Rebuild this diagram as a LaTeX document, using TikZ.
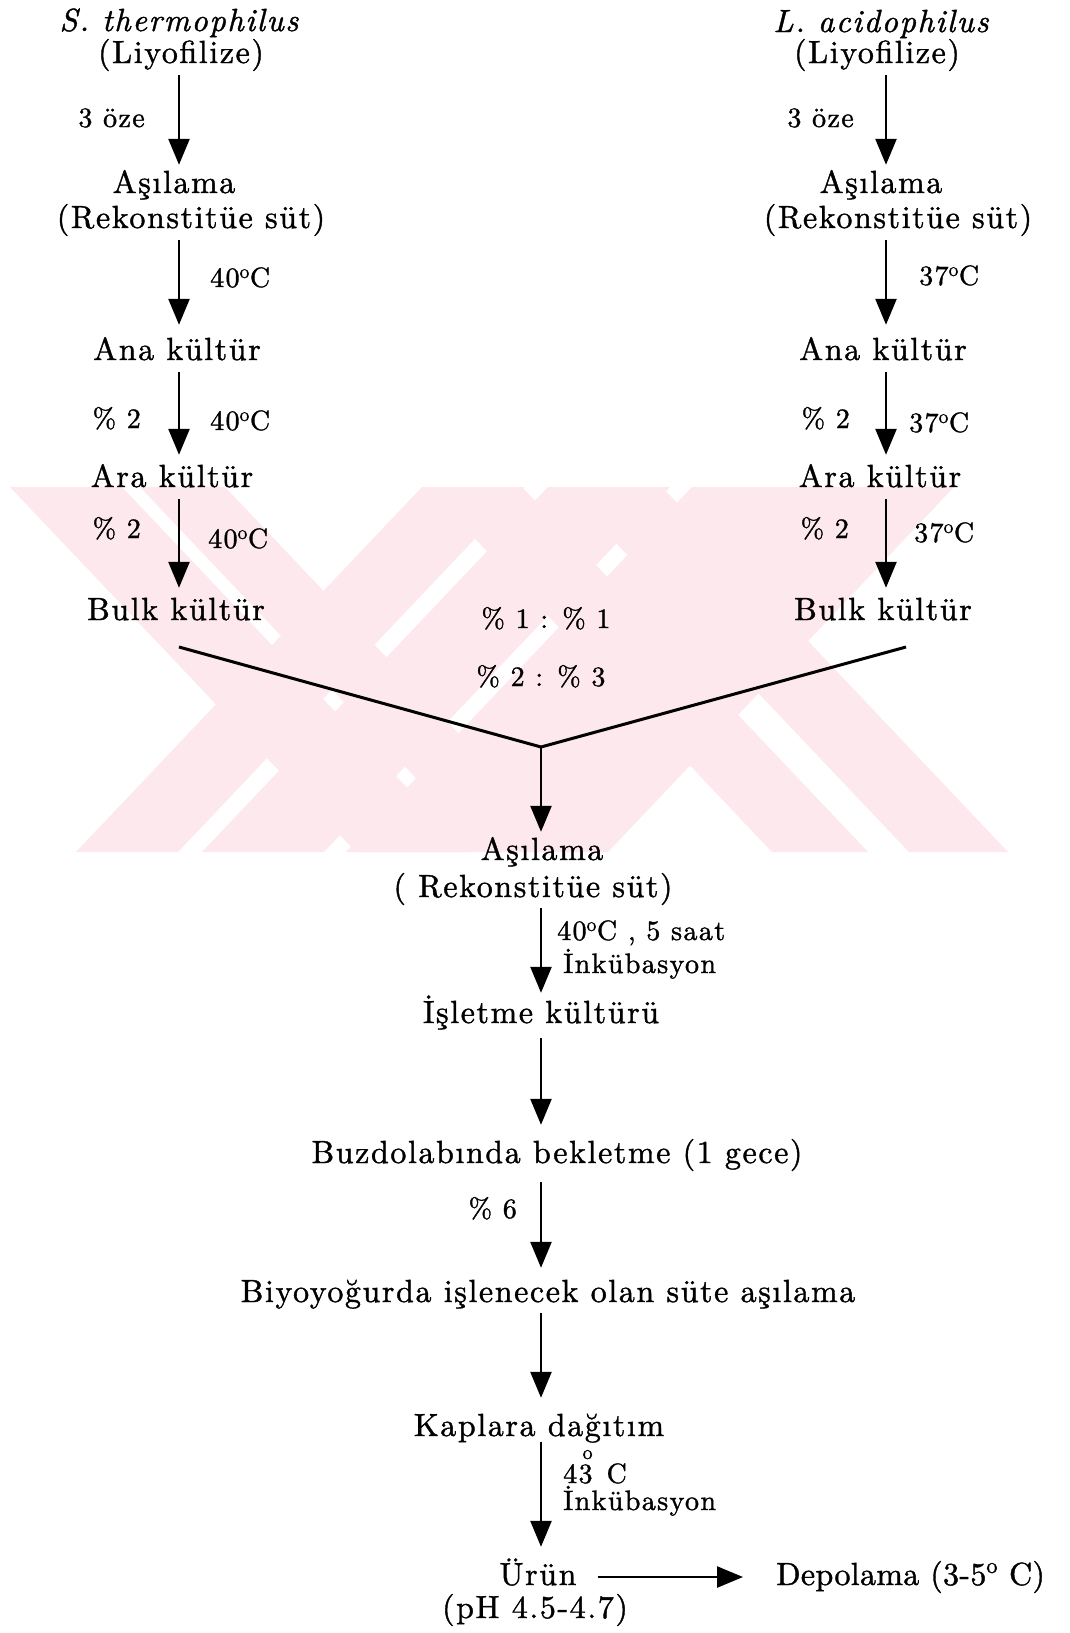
\documentclass[tikz,border=0pt]{standalone}
\usepackage{fontspec}
\setmainfont{lmroman10-regular.otf}[ItalicFont=lmroman10-italic.otf,LetterSpace=5,FakeBold=1.2]
\usetikzlibrary{arrows.meta}
\definecolor{wmark}{RGB}{253,232,237}
\newcommand{\dego}{\textsuperscript{o}}

\begin{document}
\begin{tikzpicture}[x=1pt,y=-1pt,
  stage/.style={inner sep=0pt,text height=22pt,text depth=6pt,anchor=base,font=\fontsize{32}{36}\selectfont},
  lab/.style={inner sep=0pt,anchor=base,font=\fontsize{28}{30}\selectfont},
  flowarrow/.style={-{Triangle[length=26pt,width=21pt]},line width=2.5pt,shorten <=6pt,shorten >=10pt},
  mixline/.style={line width=3pt}]
\path[fill=white] (0,0) rectangle (1070,1633);
% logo in the background
\foreach \a/\b in {10/122,140/225,426/522,563/662}
  \fill[wmark] (\a,487) -- (\b,487) -- (\b+346,852) -- (\a+346,852) -- cycle;
\foreach \a/\b in {422/524,548/670,692/954}
  \fill[wmark] (\a,487) -- (\b,487) -- (\b-346,852) -- (\a-346,852) -- cycle;

% arrow columns
\coordinate (sx) at (179,0);
\coordinate (lx) at (886,0);
\coordinate (cx) at (541,0);

% S. thermophilus side
\node[stage,font=\fontsize{32}{36}\selectfont\itshape] (sName) at (179,31) {S. thermophilus};
\node[stage] (sLyo) at (181,63) {(Liyofilize)};
\node[stage] (sAsi) at (174,193) {Aşılama};
\node[stage] (sRek) at (191,228) {(Rekonstitüe süt)};
\node[stage] (sAna) at (177,360) {Ana kültür};
\node[stage] (sAra) at (172,487) {Ara kültür};
\node[stage] (sBulk) at (176,620) {Bulk kültür};

\draw[flowarrow,shorten >=6pt] (sLyo.south -| sx) -- (sAsi.north -| sx);
\draw[flowarrow,shorten >=13pt] (sRek.south -| sx) -- (sAna.north -| sx);
\draw[flowarrow] (sAna.south -| sx) -- (sAra.north -| sx);
\draw[flowarrow] (sAra.south -| sx) -- (sBulk.north -| sx);

\node[lab,anchor=base east] (sOze) at (145,127) {3 öze};
\node[lab,anchor=base west] (sTa) at (210,287) {40\dego C};
\node[lab,anchor=base east] (sPa) at (141,428) {\% 2};
\node[lab,anchor=base west] (sTb) at (210,430) {40\dego C};
\node[lab,anchor=base east] (sPb) at (141,538) {\% 2};
\node[lab,anchor=base west] (sTc) at (208,548) {40\dego C};

% L. acidophilus side
\node[stage,font=\fontsize{32}{36}\selectfont\itshape] (lName) at (881,32) {L. acidophilus};
\node[stage] (lLyo) at (877,63) {(Liyofilize)};
\node[stage] (lAsi) at (881,193) {Aşılama};
\node[stage] (lRek) at (898,228) {(Rekonstitüe süt)};
\node[stage] (lAna) at (883,360) {Ana kültür};
\node[stage] (lAra) at (880,487) {Ara kültür};
\node[stage] (lBulk) at (883,620) {Bulk kültür};

\draw[flowarrow,shorten >=6pt] (lLyo.south -| lx) -- (lAsi.north -| lx);
\draw[flowarrow,shorten >=13pt] (lRek.south -| lx) -- (lAna.north -| lx);
\draw[flowarrow] (lAna.south -| lx) -- (lAra.north -| lx);
\draw[flowarrow] (lAra.south -| lx) -- (lBulk.north -| lx);

\node[lab,anchor=base east] (lOze) at (854,127) {3 öze};
\node[lab,anchor=base west] (lTa) at (919,285) {37\dego C};
\node[lab,anchor=base east] (lPa) at (850,428) {\% 2};
\node[lab,anchor=base west] (lTb) at (909,432) {37\dego C};
\node[lab,anchor=base east] (lPb) at (849,538) {\% 2};
\node[lab,anchor=base west] (lTc) at (914,542) {37\dego C};

% mixing both cultures
\coordinate (mixS) at (179,647);
\coordinate (mixL) at (906,647);
\coordinate (mix) at (541,747);
\draw[mixline] (mixS) -- (mix) -- (mixL);
\node[lab] (ratioA) at (546,628) {\% 1 : \% 1};
\node[lab] (ratioB) at (541,686) {\% 2 : \% 3};

% common line
\node[stage] (cAsi) at (542,860) {Aşılama};
\node[stage] (cRek) at (533,897) {( Rekonstitüe süt)};
\node[stage] (cIsl) at (541,1023) {İşletme kültürü};
\node[stage] (cBuz) at (557,1163) {Buzdolabında bekletme (1 gece)};
\node[stage] (cBiyo) at (548,1302) {Biyoyoğurda işlenecek olan süte aşılama};
\node[stage] (cKap) at (539,1436) {Kaplara dağıtım};
\node[stage] (cUrun) at (538,1585) {Ürün};
\node[stage] (cPh) at (535,1618) {(pH 4.5-4.7)};
\node[stage,anchor=base west,font=\fontsize{32}{36}\selectfont\addfontfeatures{LetterSpace=1}] (depo) at (776,1585) {Depolama (3-5\raisebox{3pt}{\dego}\ C)};

\draw[flowarrow,shorten <=0pt,shorten >=6pt] (mix) -- (cAsi.north -| cx);
\draw[flowarrow,shorten <=5pt,shorten >=8pt] (cRek.south -| cx) -- (cIsl.north -| cx);
\draw[flowarrow,shorten <=9pt,shorten >=16pt] (cIsl.south -| cx) -- (cBuz.north -| cx);
\draw[flowarrow,shorten <=13pt,shorten >=12pt] (cBuz.south -| cx) -- (cBiyo.north -| cx);
\draw[flowarrow,shorten <=5pt,shorten >=16pt] (cBiyo.south -| cx) -- (cKap.north -| cx);
\draw[flowarrow,shorten <=0pt,shorten >=16pt] (cKap.south -| cx) -- (cUrun.north -| cx);
\draw[flowarrow,shorten <=21pt,shorten >=33pt] (cUrun.east) -- (depo.west);

\node[lab,anchor=base west] (cTa) at (557,940) {40\dego C , 5 saat};
\node[lab,anchor=base west] (cInka) at (563,973) {İnkübasyon};
\node[lab,anchor=base east] (cPc) at (517,1218) {\% 6};
\node[lab,anchor=base west] (cTb) at (563,1483) {43\llap{\raisebox{24pt}{\fontsize{20}{20}\selectfont o}}\hspace{14pt}C};
\node[lab,anchor=base west] (cInkb) at (563,1510) {İnkübasyon};
\end{tikzpicture}
\end{document}
